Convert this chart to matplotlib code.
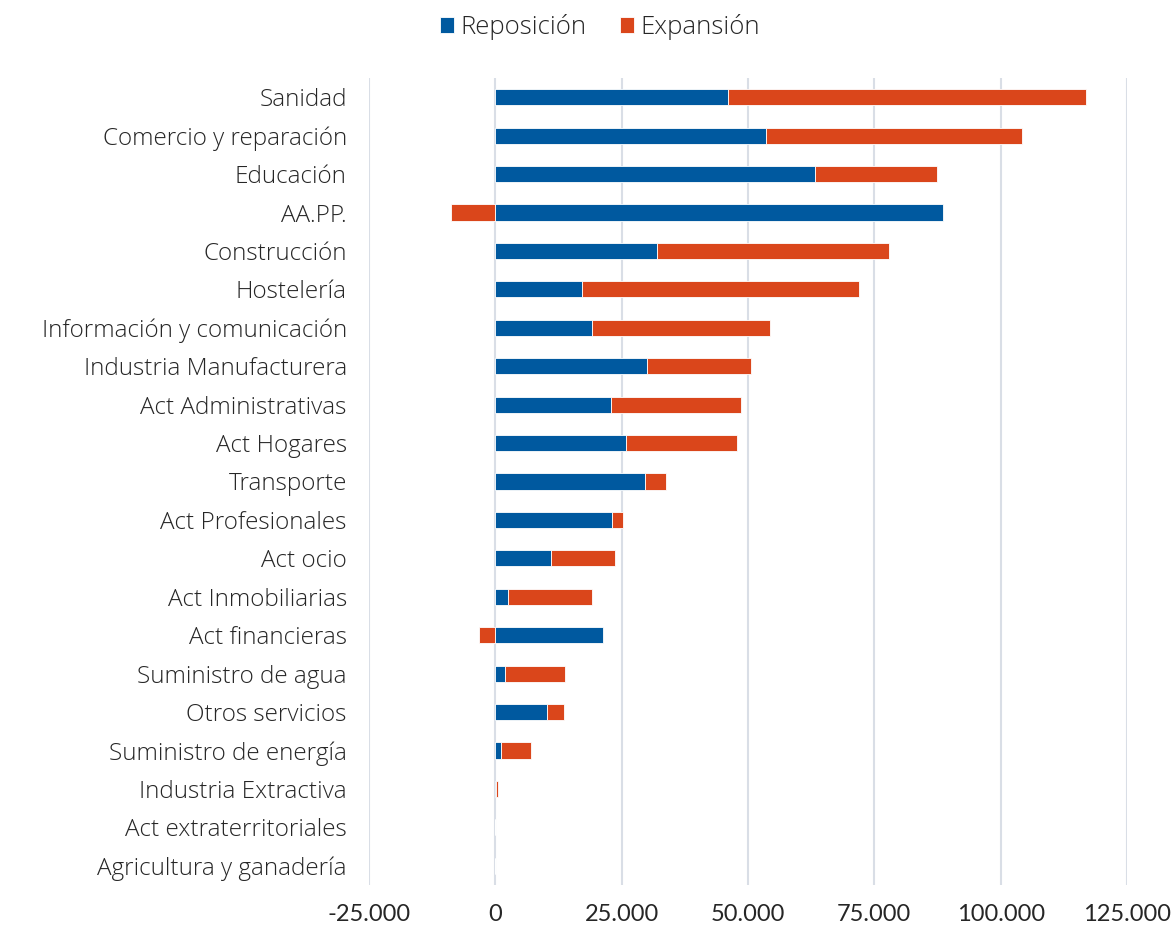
import matplotlib.pyplot as plt
import matplotlib.ticker as mticker
import numpy as np

plt.rcParams['font.family'] = ['Lato', 'DejaVu Sans']

sectores = ['Sanidad', 'Comercio y reparación', 'Educación', 'AA.PP.', 'Construcción',
            'Hostelería', 'Información y comunicación', 'Industria Manufacturera',
            'Act Administrativas', 'Act Hogares', 'Transporte', 'Act Profesionales',
            'Act ocio', 'Act Inmobiliarias', 'Act financieras', 'Suministro de agua',
            'Otros servicios', 'Suministro de energía', 'Industria Extractiva',
            'Act extraterritoriales', 'Agricultura y ganadería']
reposicion = [46000, 53600, 63200, 88500, 32000, 17200, 19200, 30000, 22900, 25900,
              29600, 23100, 11100, 2600, 21300, 2000, 10300, 1200, 100, 0, 0]
expansion = [70800, 50600, 24200, -8700, 45900, 54700, 35100, 20600, 25700, 21900,
             4200, 2200, 12600, 16600, -3200, 11800, 3200, 5900, 500, 0, -150]

blue = '#00599F'
red = '#DA461B'
txt = '#262626'
label_font = ['Open Sans', 'DejaVu Sans']

rep = np.array(reposicion)
exp_ = np.array(expansion)
y = np.arange(len(sectores))
# expansion stacks after reposicion when positive, otherwise grows left from zero
exp_left = np.where(exp_ >= 0, rep, 0)

fig = plt.figure(figsize=(11.73, 9.26), dpi=100)
ax = fig.add_axes([369 / 1173, 1 - 885 / 926, (1127 - 369) / 1173, (885 - 78) / 926])

h = 0.42
ax.barh(y, rep, height=h, color=blue, edgecolor='white', linewidth=0.6, label='Reposición', zorder=3)
ax.barh(y, exp_, left=exp_left, height=h, color=red, edgecolor='white', linewidth=0.6,
        label='Expansión', zorder=3)

ax.set_xlim(-25000, 125000)
ax.set_ylim(len(sectores) - 0.5, -0.5)
ax.set_xticks(np.arange(-25000, 125001, 25000))
ax.xaxis.set_major_formatter(mticker.FuncFormatter(lambda v, p: f'{v:,.0f}'.replace(',', '.')))
ax.set_yticks(y)
ax.set_yticklabels(sectores, family=label_font, weight='light')

ax.grid(axis='x', color='#D9DEE6', linewidth=1.5, zorder=0)
for s in ax.spines.values():
    s.set_visible(False)
ax.tick_params(axis='y', length=0, pad=16, labelsize=17.5, labelcolor=txt)
ax.tick_params(axis='x', length=0, pad=14, labelsize=17, labelcolor=txt)

fig.legend(loc='center', bbox_to_anchor=(600 / 1173, 1 - 27 / 926), ncol=2, frameon=False,
           prop={'family': label_font, 'weight': 'light', 'size': 18.5},
           handlelength=0.55, handleheight=0.55, handletextpad=0.25,
           columnspacing=1.3, labelcolor=txt)

fig.savefig('out.png', dpi=100)
